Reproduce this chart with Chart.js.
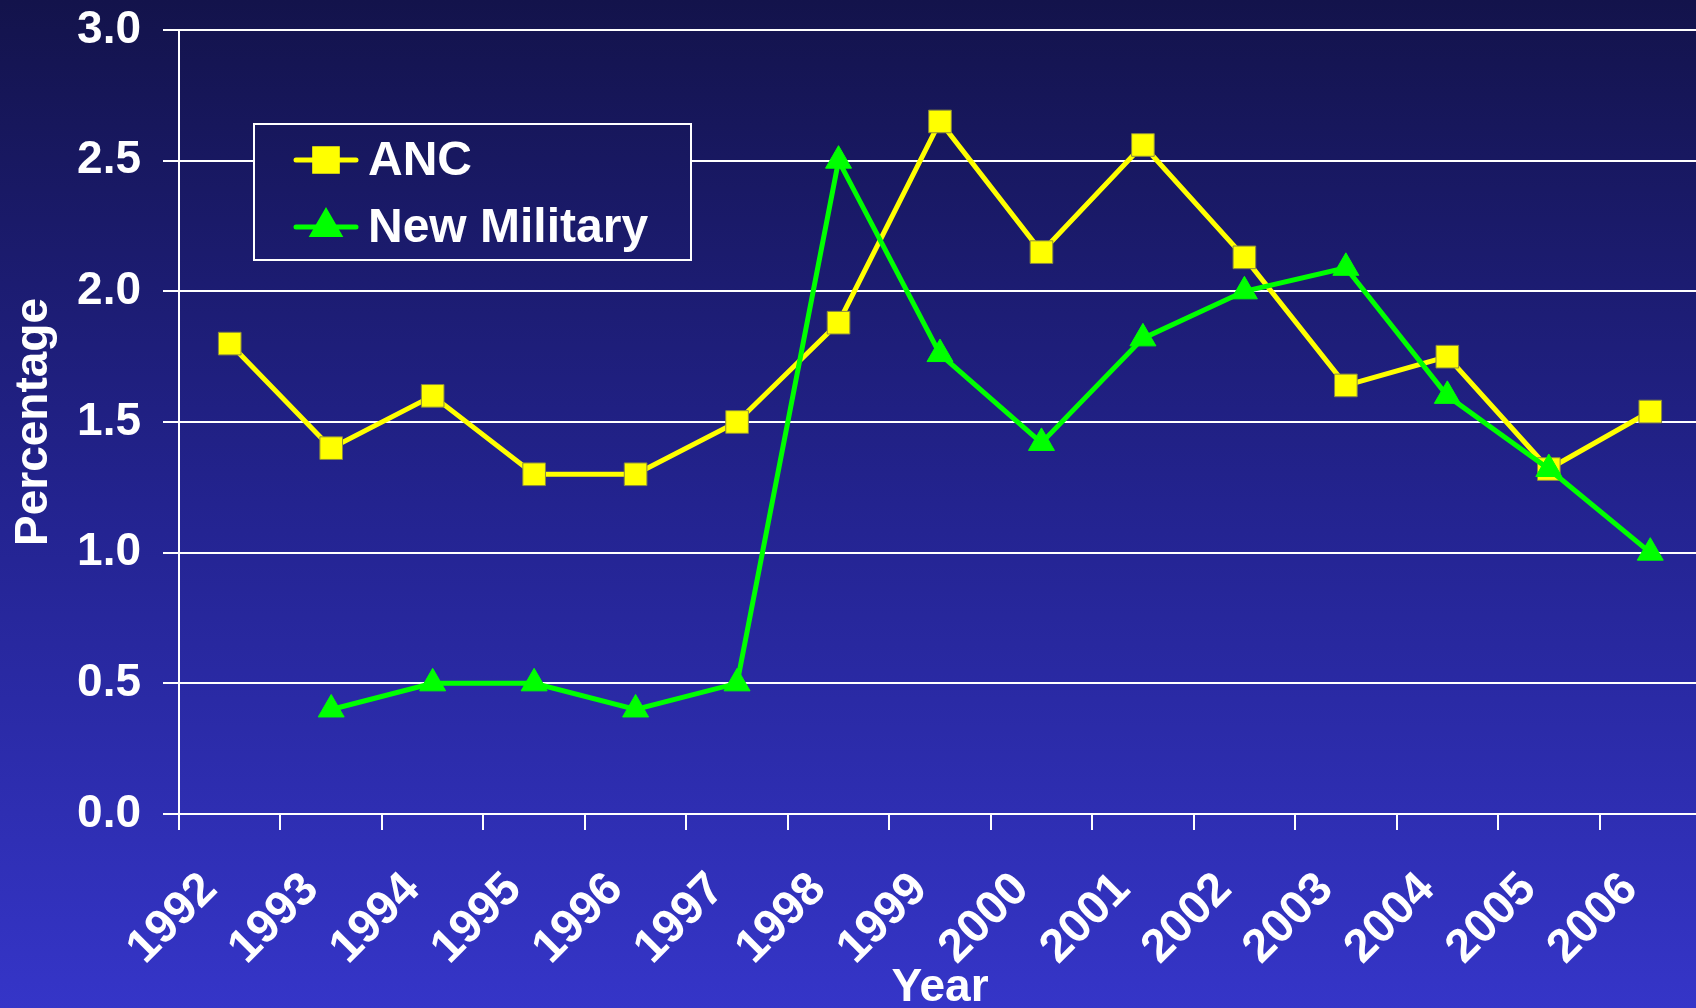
<!DOCTYPE html>
<html>
<head>
<meta charset="utf-8">
<title>ANC vs New Military</title>
<script src="https://cdn.jsdelivr.net/npm/chart.js@4.4.0/dist/chart.umd.min.js"></script>
<style>
  html, body {
    margin: 0;
    width: 1696px;
    height: 1008px;
    overflow: hidden;
    background: linear-gradient(to bottom, #13134b 0%, #23238f 50%, #3535c8 100%);
  }
  #chart {
    position: absolute;
    left: 0;
    top: 0;
  }
</style>
</head>
<body>
<!-- a little wider than the window: the last category runs off the right edge in the original -->
<canvas id="chart" width="1718" height="1016"></canvas>
<script>
// Data
const years = ["1992", "1993", "1994", "1995", "1996", "1997", "1998", "1999",
               "2000", "2001", "2002", "2003", "2004", "2005", "2006"]
const ancValues = [1.80, 1.40, 1.60, 1.30, 1.30, 1.50, 1.88, 2.65, 2.15, 2.56, 2.13, 1.64, 1.75, 1.32, 1.54]
const militaryValues = [null, 0.40, 0.50, 0.50, 0.40, 0.50, 2.50, 1.76, 1.42, 1.82, 2.00, 2.09, 1.60, 1.32, 1.00]
const yTicks = [0, 0.5, 1.0, 1.5, 2.0, 2.5, 3.0]

const FONT = "'Liberation Sans', Arial, sans-serif"
const WHITE = "#ffffff"

// Boxed legend inside the plot, like the original slide
const boxLegend = {
  id: "boxLegend",
  afterDraw(chart) {
    const ctx = chart.ctx
    const x = 254, y = 124, w = 437, h = 136
    ctx.save()
    ctx.clearRect(x, y, w, h)
    ctx.strokeStyle = WHITE
    ctx.lineWidth = 2
    ctx.strokeRect(x, y, w, h)

    chart.data.datasets.forEach((ds, i) => {
      const cy = 160 + i * 67
      ctx.strokeStyle = ds.borderColor
      ctx.lineWidth = 5
      ctx.lineCap = "round"
      ctx.beginPath()
      ctx.moveTo(296, cy)
      ctx.lineTo(356, cy)
      ctx.stroke()

      ctx.fillStyle = ds.backgroundColor
      ctx.strokeStyle = ds.backgroundColor
      Chart.helpers.drawPoint(ctx, {
        pointStyle: ds.pointStyle,
        radius: ds.pointRadius,
        borderWidth: 1,
        rotation: 0,
      }, 326, cy)

      ctx.fillStyle = WHITE
      ctx.font = `bold 48px ${FONT}`
      ctx.textBaseline = "middle"
      ctx.textAlign = "left"
      ctx.fillText(ds.label, 368, cy + 2)
    })
    ctx.restore()
  },
}

const ctx = document.getElementById("chart").getContext("2d")

new Chart(ctx, {
  type: "line",
  data: {
    labels: years,
    datasets: [
      {
        label: "ANC",
        data: ancValues,
        order: 1,
        borderColor: "#ffff00",
        backgroundColor: "#ffff00",
        borderWidth: 5,
        pointStyle: "rect",
        pointRadius: 16,
        pointBorderWidth: 1,
        pointBorderColor: "#8a8a40",
      },
      {
        label: "New Military",
        data: militaryValues,
        order: 0,
        borderColor: "#00ff00",
        backgroundColor: "#00ff00",
        borderWidth: 5,
        pointStyle: "triangle",
        pointRadius: 15,
        pointBorderWidth: 1,
        pointBorderColor: "#00ff00",
      },
    ],
  },
  options: {
    responsive: false,
    animation: false,
    layout: { padding: { top: 30, left: 0, right: 0, bottom: 0 } },
    plugins: {
      legend: { display: false },
      tooltip: { enabled: false },
    },
    scales: {
      x: {
        offset: true,
        grid: {
          offset: true,
          drawOnChartArea: false,
          drawTicks: true,
          tickLength: 16,
          color: WHITE,
          lineWidth: 2,
        },
        border: { display: true, color: WHITE, width: 2 },
        ticks: {
          color: WHITE,
          font: { family: FONT, size: 47, weight: "bold" },
          minRotation: 45,
          maxRotation: 45,
          padding: 32,
          labelOffset: -20,
          autoSkip: false,
        },
        title: {
          display: true,
          text: "Year",
          color: WHITE,
          font: { family: FONT, size: 46, weight: "bold" },
          padding: 0,
        },
        afterFit(scale) {
          scale.height = 202
          scale.paddingLeft = 0
          scale.paddingRight = 0
        },
      },
      y: {
        min: 0,
        max: 3,
        afterBuildTicks(scale) { scale.ticks = yTicks.map((v) => ({ value: v })) },
        grid: {
          color: WHITE,
          lineWidth: 2,
          drawTicks: true,
          tickLength: 16,
        },
        border: { display: true, color: WHITE, width: 2 },
        ticks: {
          color: WHITE,
          font: { family: FONT, size: 46, weight: "bold" },
          padding: 22,
          callback: (v) => Number(v).toFixed(1),
        },
        title: {
          display: true,
          text: "Percentage",
          color: WHITE,
          font: { family: FONT, size: 46, weight: "bold" },
          padding: { top: 7, bottom: 0 },
        },
        afterFit(scale) {
          scale.width = 179
          scale.paddingTop = 0
          scale.paddingBottom = 0
        },
      },
    },
  },
  plugins: [boxLegend],
})
</script>
</body>
</html>
